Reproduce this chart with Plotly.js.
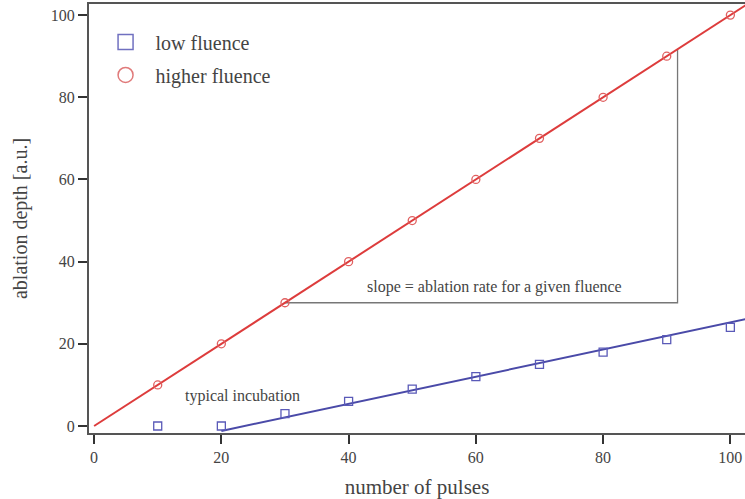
<!DOCTYPE html>
<html><head><meta charset="utf-8">
<script src="https://cdn.plot.ly/plotly-3.0.1.min.js"></script>
<style>html,body{margin:0;padding:0;overflow:hidden;background:#fff}</style>
</head><body><div id="chart" style="width:745px;height:499px"></div>
<script>
var pulses = [10,20,30,40,50,60,70,80,90,100];
var lowFluence = [0,0,3,6,9,12,15,18,21,24];
var highFluence = [10,20,30,40,50,60,70,80,90,100];
var lowFitX = [20,102.4];
var lowFitY = [-1.2,26];
var highFitX = [0,102.4];
var highFitY = [0,102.4];
var slopeX = [30,91.7,91.7];
var slopeY = [30,30,91.7];
var xTicks = [0,20,40,60,80,100];
var yTicks = [0,20,40,60,80,100];

var serif = "Liberation Serif, DejaVu Serif, serif";
var blue = "#4a4aa8", red = "#dd3c3c";

var traces = [
  {x: slopeX, y: slopeY, mode:'lines', line:{color:'#777', width:1.3}, showlegend:false, hoverinfo:'skip'},
  {x: lowFitX, y: lowFitY, mode:'lines', line:{color:blue, width:2}, showlegend:false},
  {x: highFitX, y: highFitY, mode:'lines', line:{color:red, width:2}, showlegend:false},
  {x: pulses, y: lowFluence, mode:'markers', marker:{symbol:'square-open', size:8, color:'#5a5ab8', line:{width:1.3}}, showlegend:false},
  {x: pulses, y: highFluence, mode:'markers', marker:{symbol:'circle-open', size:8, color:'#e06060', line:{width:1.3}}, showlegend:false},
  {x:[null], y:[null], mode:'markers', name:'low fluence', legendgroup:'a', marker:{symbol:'square-open', size:15, color:'#7070c0', line:{width:1.5}}},
  {x:[null], y:[null], mode:'markers', name:'higher fluence', legendgroup:'b', marker:{symbol:'circle-open', size:15, color:'#e07a7a', line:{width:1.5}}}
];

var layout = {
  width:745, height:499,
  margin:{l:89, r:0, t:4, b:66},
  paper_bgcolor:'#fff', plot_bgcolor:'#fff',
  font:{family:serif, color:'#444'},
  showlegend:true,
  legend:{x:0.01, y:0.957, xanchor:'left', yanchor:'top', font:{size:20, family:serif, color:'#444'}, bgcolor:'rgba(0,0,0,0)', tracegroupgap:4, itemwidth:50},
  xaxis:{range:[-0.8,102.3], tickvals:xTicks, ticks:'outside', ticklen:9, tickwidth:2, tickcolor:'#333',
    showgrid:false, zeroline:false, showline:true, linecolor:'#555', linewidth:2, mirror:true,
    tickfont:{size:16, family:serif, color:'#444'},
    title:{text:'number of pulses', font:{size:21, family:serif, color:'#444'}, standoff:14}},
  yaxis:{range:[-1.7,102.7], tickvals:yTicks, ticks:'outside', ticklen:9, tickwidth:2, tickcolor:'#333',
    showgrid:false, zeroline:false, showline:true, linecolor:'#555', linewidth:2,
    tickfont:{size:16, family:serif, color:'#444'},
    title:{text:'ablation depth [a.u.]', font:{size:20, family:serif, color:'#444'}, standoff:18}},
  annotations:[
    {x:63, y:33.8, text:'slope = ablation rate for a given fluence', showarrow:false, font:{size:16, family:serif, color:'#444'}},
    {x:23.3, y:7.3, text:'typical incubation', showarrow:false, font:{size:16, family:serif, color:'#444'}}
  ]
};
Plotly.newPlot('chart', traces, layout, {displayModeBar:false, staticPlot:true});
</script></body></html>
